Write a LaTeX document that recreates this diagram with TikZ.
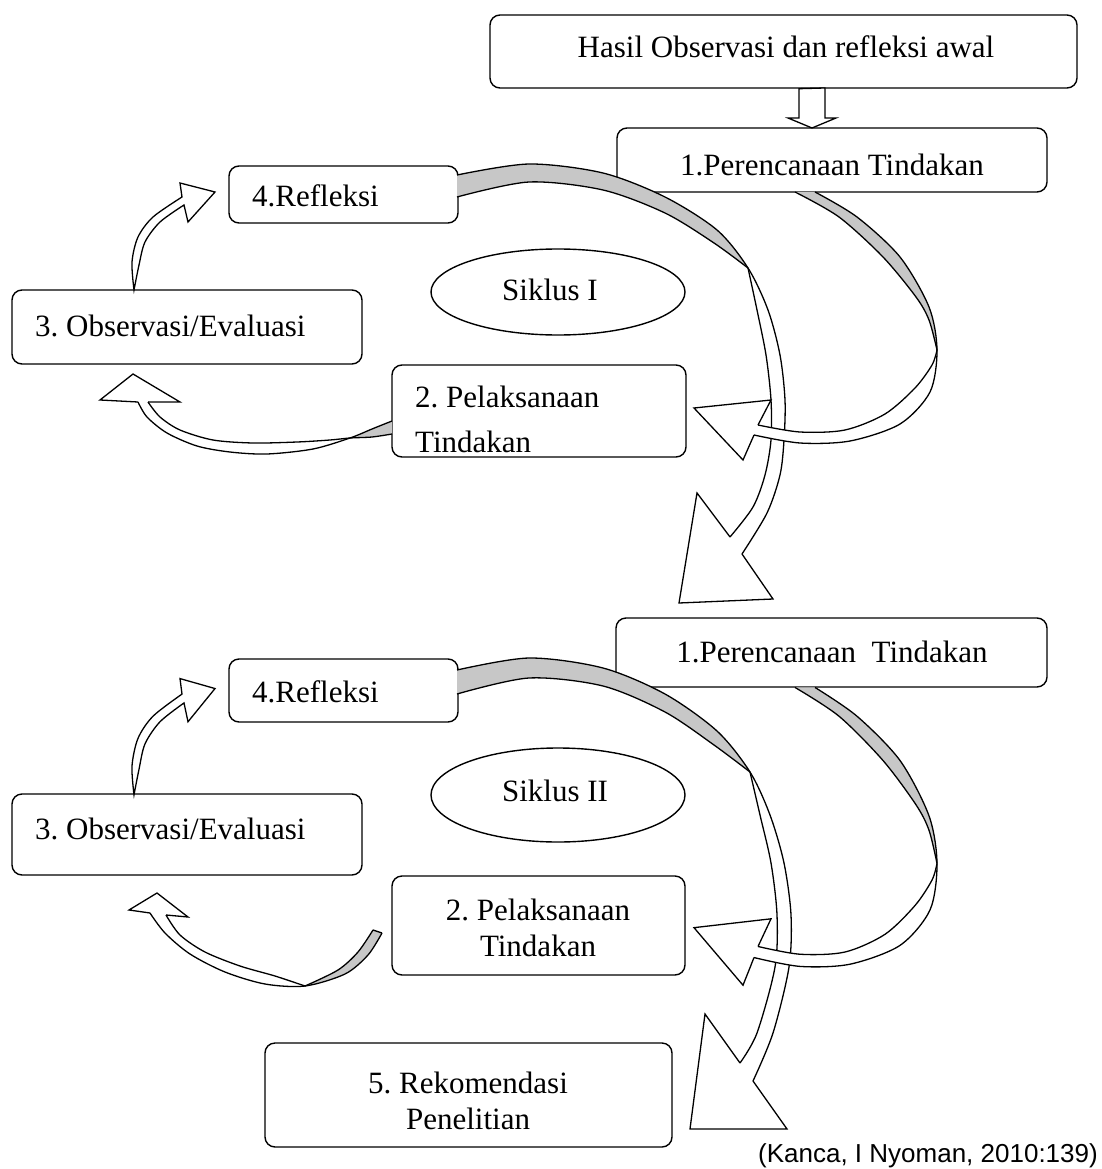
\documentclass[tikz,border=0pt]{standalone}
\usepackage{fontspec}
\setmainfont{Liberation Serif}
\newfontfamily\arialfont{Liberation Sans}
\usetikzlibrary{shapes.geometric}
\frenchspacing
\begin{document}
\begin{tikzpicture}[x=1pt,y=-1pt,
  box/.style={draw, line width=1.4pt, rounded corners=10pt, fill=white, inner sep=0pt},
  oval/.style={draw, ellipse, line width=1.4pt, inner sep=0pt},
  txt/.style={inner sep=0pt, font=\fontsize{31}{36}\selectfont},
  gfill/.style={fill=black!22},
  wfill/.style={fill=white},
  rline/.style={draw, line width=1.3pt, line join=miter},
  ribwhite/.style={draw, line width=1.3pt, fill=white, line join=miter},
]
\useasboundingbox (0,0) rectangle (1102,1169);

% ---------- boxes ----------
\node[box, minimum width=587pt, minimum height=73pt] (hasil) at (783.5,51.5) {};
\node[txt, anchor=base] (hasilt) at (786,58) {Hasil Observasi dan refleksi awal};

\node[box, minimum width=430pt, minimum height=64pt] (per1) at (832,160) {};
\node[txt, anchor=base] (per1t) at (832,176) {1.Perencanaan Tindakan};

\node[box, minimum width=229pt, minimum height=57pt] (ref1) at (343.5,194.5) {};
\node[txt, anchor=base west] (ref1t) at (252,206) {4.Refleksi};

\node[oval, minimum width=254pt, minimum height=86pt] (sik1) at (558,292) {};
\node[txt, anchor=base] (sik1t) at (550,300) {Siklus I};

\node[box, minimum width=350pt, minimum height=74pt] (obs1) at (187,327) {};
\node[txt, anchor=base west] (obs1t) at (35,336) {3. Observasi/Evaluasi};

\node[box, minimum width=294pt, minimum height=92pt] (pel1) at (539,411) {};
\begin{scope}
  \clip (393,366) rectangle (685,453);
  \node[txt, anchor=base west] (pel1t) at (415,407) {2. Pelaksanaan};
  \node[txt, anchor=base west] (pel1u) at (415,452) {Tindakan};
\end{scope}

\node[box, minimum width=431pt, minimum height=69pt] (per2) at (831.5,652.5) {};
\node[txt, anchor=base] (per2t) at (832,662) {1.Perencanaan\ \ Tindakan};

\node[box, minimum width=229pt, minimum height=63pt] (ref2) at (343.5,690.5) {};
\node[txt, anchor=base west] (ref2t) at (252,702) {4.Refleksi};

\node[oval, minimum width=254pt, minimum height=94pt] (sik2) at (558,795) {};
\node[txt, anchor=base] (sik2t) at (555,801) {Siklus II};

\node[box, minimum width=350pt, minimum height=81pt] (obs2) at (187,834.5) {};
\node[txt, anchor=base west] (obs2t) at (35,839) {3. Observasi/Evaluasi};

\node[box, minimum width=293pt, minimum height=99pt] (pel2) at (538.5,925.5) {};
\node[txt, anchor=base] (pel2t) at (538,920) {2. Pelaksanaan};
\node[txt, anchor=base] (pel2u) at (538,956) {Tindakan};

\node[box, minimum width=407pt, minimum height=104pt] (rek) at (468.5,1095) {};
\node[txt, anchor=base] (rekt) at (468,1093) {5. Rekomendasi};
\node[txt, anchor=base] (reku) at (468,1129) {Penelitian};

\node[inner sep=0pt, anchor=base east, font=\arialfont\fontsize{26}{30}\selectfont] (cite) at (1098,1162) {(Kanca, I Nyoman, 2010:139)};

% ---------- straight block arrow ----------
\filldraw[ribwhite] (hasil.south -| 799,0) -- (825,88) -- (825,118) -- (836,118) -- (812,128) -- (788,118) -- (799,118) -- cycle;

% ---------- cycle I arrows ----------
% 4 -> next cycle (big arc)
\fill[gfill] plot[smooth] coordinates {(457,175) (529,164) (603,173) (665,197) (717,230) (748,268)}
  -- plot[smooth] coordinates {(748,268) (714,243) (665,213) (603,190) (529,182) (457,197)} -- cycle;
\fill[wfill] plot[smooth] coordinates {(748,268) (768,310) (780,355) (785,400) (784,440) (780,475) (767,513) (742,554)}
  -- (773,599) -- (679,603) -- (697,493) -- (730,537)
  -- plot[smooth] coordinates {(730,537) (753,507) (765,475) (771,440) (771,400) (766,355) (757,310) (748,268)} -- cycle;
\draw[rline] plot[smooth] coordinates {(457,175) (529,164) (603,173) (665,197) (717,230) (748,268) (768,310) (780,355) (785,400) (784,440) (780,475) (767,513) (742,554)};
\draw[rline] plot[smooth] coordinates {(748,268) (714,243) (665,213) (603,190) (529,182) (457,197)};
\draw[rline] plot[smooth] coordinates {(730,537) (753,507) (765,475) (771,440) (771,400) (766,355) (757,310) (748,268)};
\draw[rline] (742,554) -- (773,599) -- (679,603) -- (697,493) -- (730,537);

% 1 -> 2
\fill[gfill] plot[smooth] coordinates {(815,192) (857,217) (900,257) (929,307) (937,350)}
  -- plot[smooth] coordinates {(937,350) (929,320) (916,297) (883,257) (839,217) (795,192)} -- cycle;
\fill[wfill] plot[smooth] coordinates {(937,350) (930,392) (900,424) (850,441) (800,443) (754,435)}
  -- (743,460) -- (694,408) -- (771,400) -- (758,425)
  -- plot[smooth] coordinates {(758,425) (800,432) (845,430) (885,414) (915,388) (932,365) (937,350)} -- cycle;
\draw[rline] plot[smooth] coordinates {(815,192) (857,217) (900,257) (929,307) (937,350) (930,392) (900,424) (850,441) (800,443) (754,435)};
\draw[rline] plot[smooth] coordinates {(937,350) (929,320) (916,297) (883,257) (839,217) (795,192)};
\draw[rline] plot[smooth] coordinates {(758,425) (800,432) (845,430) (885,414) (915,388) (932,365) (937,350)};
\draw[rline] (754,435) -- (743,460) -- (694,408) -- (771,400) -- (758,425);

% 2 -> 3
\fill[gfill] plot[smooth] coordinates {(392,421) (372,429) (350,438)}
  -- plot[smooth] coordinates {(350,438) (372,437) (392,434)} -- cycle;
\fill[wfill] plot[smooth] coordinates {(350,438) (313,449) (267,454) (230,452) (197,446) (167,433) (147,417) (138,402)}
  -- (100,400) -- (133,374) -- (180,402) -- (148,402)
  -- plot[smooth] coordinates {(148,402) (160,417) (180,430) (213,440) (253,443) (297,442) (330,440) (350,438)} -- cycle;
\draw[rline] plot[smooth] coordinates {(392,421) (372,429) (350,438) (313,449) (267,454) (230,452) (197,446) (167,433) (147,417) (138,402)};
\draw[rline] plot[smooth] coordinates {(148,402) (160,417) (180,430) (213,440) (253,443) (297,442) (330,440) (350,438) (372,437) (392,434)};
\draw[rline] (138,402) -- (100,400) -- (133,374) -- (180,402) -- (148,402);

% 3 -> 4
\filldraw[ribwhite] plot[smooth] coordinates {(134,290) (132,262) (138,237) (153,217) (182,197)}
  -- (180,183) -- (215,192) -- (188,222) -- (184,205)
  -- plot[smooth] coordinates {(184,205) (160,222) (145,242) (139,265) (134,290)} -- cycle;

% ---------- cycle II arrows ----------
% 4 -> recommendation (big arc)
\fill[gfill] plot[smooth] coordinates {(457,670) (529,658) (603,668) (665,694) (717,731) (750,772)}
  -- plot[smooth] coordinates {(750,772) (714,745) (665,712) (603,686) (529,678) (457,694)} -- cycle;
\fill[wfill] plot[smooth] coordinates {(750,772) (770,815) (784,863) (791,915) (789,967) (773,1033) (753,1081)}
  -- (787,1129) -- (690,1129) -- (705,1014) -- (740,1063)
  -- plot[smooth] coordinates {(740,1063) (757,1033) (775,967) (777,915) (771,863) (760,815) (750,772)} -- cycle;
\draw[rline] plot[smooth] coordinates {(457,670) (529,658) (603,668) (665,694) (717,731) (750,772) (770,815) (784,863) (791,915) (789,967) (773,1033) (753,1081)};
\draw[rline] plot[smooth] coordinates {(750,772) (714,745) (665,712) (603,686) (529,678) (457,694)};
\draw[rline] plot[smooth] coordinates {(740,1063) (757,1033) (775,967) (777,915) (771,863) (760,815) (750,772)};
\draw[rline] (753,1081) -- (787,1129) -- (690,1129) -- (705,1014) -- (740,1063);

\begin{scope}[yshift=-476pt, yscale=1.107]
% 1 -> 2
\fill[gfill] plot[smooth] coordinates {(815,191) (857,217) (900,257) (929,307) (937,350)}
  -- plot[smooth] coordinates {(937,350) (929,320) (916,297) (883,257) (839,217) (795,191)} -- cycle;
\fill[wfill] plot[smooth] coordinates {(937,350) (930,392) (900,424) (850,441) (800,443) (754,435)}
  -- (743,460) -- (694,408) -- (771,400) -- (758,425)
  -- plot[smooth] coordinates {(758,425) (800,432) (845,430) (885,414) (915,388) (932,365) (937,350)} -- cycle;
\draw[rline] plot[smooth] coordinates {(815,191) (857,217) (900,257) (929,307) (937,350) (930,392) (900,424) (850,441) (800,443) (754,435)};
\draw[rline] plot[smooth] coordinates {(937,350) (929,320) (916,297) (883,257) (839,217) (795,191)};
\draw[rline] plot[smooth] coordinates {(758,425) (800,432) (845,430) (885,414) (915,388) (932,365) (937,350)};
\draw[rline] (754,435) -- (743,460) -- (694,408) -- (771,400) -- (758,425);
% 3 -> 4
\filldraw[ribwhite] plot[smooth] coordinates {(134,288) (132,262) (138,237) (153,217) (182,197)}
  -- (180,183) -- (215,192) -- (188,222) -- (184,205)
  -- plot[smooth] coordinates {(184,205) (160,222) (145,242) (139,265) (134,288)} -- cycle;
\end{scope}

% 2 -> 3
\fill[gfill] plot[smooth] coordinates {(382,933) (368,955) (345,974) (305,986)}
  -- plot[smooth] coordinates {(305,986) (338,970) (358,952) (373,930)} -- cycle;
\fill[wfill] plot[smooth] coordinates {(305,986) (265,984) (225,972) (190,954) (165,933) (150,913)}
  -- (129,910) -- (157,893) -- (188,917) -- (166,915)
  -- plot[smooth] coordinates {(166,915) (180,935) (205,952) (240,966) (275,976) (305,986)} -- cycle;
\draw[rline] plot[smooth] coordinates {(382,933) (368,955) (345,974) (305,986) (265,984) (225,972) (190,954) (165,933) (150,913)};
\draw[rline] plot[smooth] coordinates {(305,986) (338,970) (358,952) (373,930)};
\draw[rline] plot[smooth] coordinates {(166,915) (180,935) (205,952) (240,966) (275,976) (305,986)};
\draw[rline] (150,913) -- (129,910) -- (157,893) -- (188,917) -- (166,915);
\draw[rline] (373,930) -- (382,933);

\end{tikzpicture}
\end{document}
